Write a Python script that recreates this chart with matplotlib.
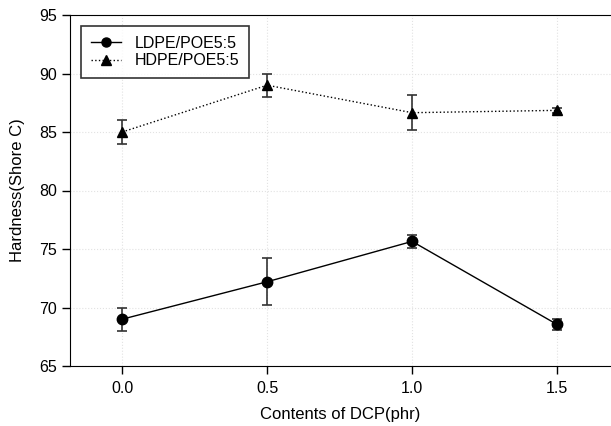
import matplotlib.pyplot as plt
from matplotlib.lines import Line2D

plt.rcParams['font.family'] = ['Liberation Sans', 'DejaVu Sans']

# datos
dcp = [0.0, 0.5, 1.0, 1.5]
ldpe = [69.0, 72.2, 75.65, 68.55]
ldpe_err = [1.0, 2.0, 0.55, 0.45]
hdpe = [85.0, 89.0, 86.65, 86.85]
hdpe_err = [1.0, 1.0, 1.5, 0.2]
xticks = [0.0, 0.5, 1.0, 1.5]
yticks = [65, 70, 75, 80, 85, 90, 95]

fig = plt.figure(figsize=(6.11, 4.26), dpi=100)
ax = fig.add_axes([70 / 611, 1 - 366 / 426, (611 - 70) / 611, 351 / 426])

ax.errorbar(dcp, ldpe, yerr=ldpe_err, color='black', ecolor='#333333', marker='o',
            markersize=7.5, linestyle='-', linewidth=1.0, capsize=3.8, elinewidth=1.2,
            capthick=1.2)
ax.errorbar(dcp, hdpe, yerr=hdpe_err, color='black', ecolor='#333333', marker='^',
            markersize=7.5, linestyle=':', linewidth=1.0, capsize=3.8, elinewidth=1.2,
            capthick=1.2)

ax.set_xlim(-0.18, 1.686)
ax.set_ylim(65, 95)
ax.set_xticks(xticks)
ax.set_xticklabels(['0.0', '0.5', '1.0', '1.5'])
ax.set_yticks(yticks)
ax.tick_params(labelsize=11.5, direction='out', length=6, width=1)
ax.tick_params(axis='x', pad=5)
ax.grid(True, linestyle=':', color='#e2e2e2', linewidth=0.8)
ax.set_axisbelow(True)
ax.spines['right'].set_visible(False)

ax.set_xlabel('Contents of DCP(phr)', fontsize=12, labelpad=8)
ax.set_ylabel('Hardness(Shore C)', fontsize=12, labelpad=10)

# leyenda sin barras de error
handles = [
    Line2D([], [], color='black', marker='o', markersize=6.5, linestyle='-', linewidth=1.0),
    Line2D([], [], color='black', marker='^', markersize=6.5, linestyle=':', linewidth=1.0),
]
leg = ax.legend(handles, ['LDPE/POE5:5', 'HDPE/POE5:5'], loc='upper left', fontsize=11.5,
                frameon=True, fancybox=False, edgecolor='black', borderaxespad=0.7,
                handlelength=1.9, handletextpad=0.85, borderpad=0.6, labelspacing=0.15)
leg.get_frame().set_linewidth(1.2)

plt.savefig('out.png', dpi=100)
